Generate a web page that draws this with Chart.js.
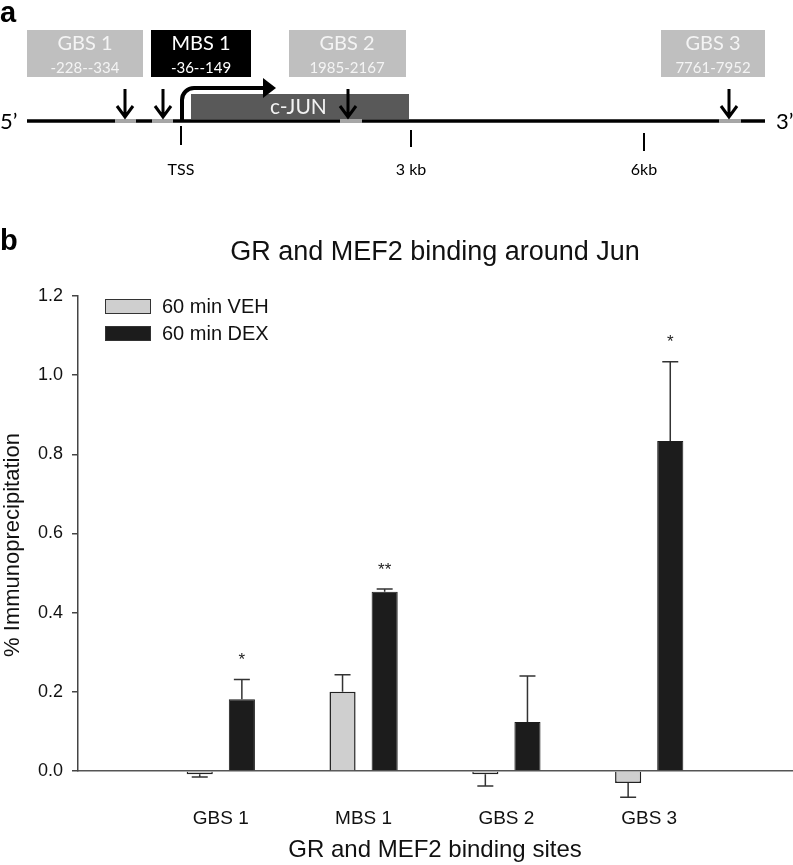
<!DOCTYPE html>
<html lang="en">
<head>
<meta charset="UTF-8">
<title>GR and MEF2 binding around Jun</title>
<script src="https://cdn.jsdelivr.net/npm/chart.js@4"></script>
<style>
    body {
        margin: 0;
        background: #fff;
    }
    .page {
        position: relative;
        width: 793px;
        height: 865px;
        overflow: hidden;
    }
    #chart {
        position: absolute;
        left: 0;
        top: 0;
    }
    /* gene map, panel a */
    .gene-map {
        position: absolute;
        left: 0;
        top: 0;
    }
    .gene-map .site { font-family: Lato, 'Open Sans', sans-serif; }
</style>
</head>
<body>
<div class="page">
    <canvas id="chart" width="793" height="865"></canvas>

    <svg class="gene-map" width="793" height="260" xmlns="http://www.w3.org/2000/svg">
        <text x="0" y="22" font-family="Liberation Sans, Arial" font-weight="bold" font-size="29" fill="#000">a</text>
        <text x="0" y="250" font-family="Liberation Sans, Arial" font-weight="bold" font-size="29" fill="#000">b</text>

        <!-- binding site boxes -->
        <g class="site" text-anchor="middle">
            <rect x="27" y="30" width="116" height="47" fill="#bfbfbf"/>
            <text x="85" y="50" font-size="20" fill="#f4f4f4">GBS 1</text>
            <text x="85" y="73" font-size="15" fill="#f4f4f4">-228--334</text>

            <rect x="151" y="30" width="100" height="47" fill="#000"/>
            <text x="201" y="50" font-size="20" fill="#fff">MBS 1</text>
            <text x="201" y="73" font-size="15" fill="#fff">-36--149</text>

            <rect x="289" y="30" width="117" height="47" fill="#bfbfbf"/>
            <text x="347" y="50" font-size="20" fill="#f4f4f4">GBS 2</text>
            <text x="347" y="73" font-size="15" fill="#f4f4f4">1985-2167</text>

            <rect x="661" y="30" width="104" height="47" fill="#bfbfbf"/>
            <text x="713" y="50" font-size="20" fill="#f4f4f4">GBS 3</text>
            <text x="713" y="73" font-size="15" fill="#f4f4f4">7761-7952</text>
        </g>

        <!-- gene body -->
        <rect x="191" y="94" width="218" height="25" fill="#595959"/>
        <text class="site" x="270" y="114" font-size="21" fill="#f2f2f2">c-JUN</text>

        <!-- chromosome line and sites -->
        <line x1="27" y1="121" x2="765" y2="121" stroke="#000" stroke-width="3.5"/>
        <rect x="115" y="119" width="21" height="4" fill="#a6a6a6"/>
        <rect x="152" y="119" width="21" height="4" fill="#a6a6a6"/>
        <rect x="340" y="119" width="22" height="4" fill="#a6a6a6"/>
        <rect x="719" y="119" width="22" height="4" fill="#a6a6a6"/>

        <!-- TSS arrow -->
        <path d="M182 121 V100 A12 12 0 0 1 194 88 H265" fill="none" stroke="#000" stroke-width="4"/>
        <polygon points="263,78 276,88 263,98" fill="#000"/>

        <!-- site arrows -->
        <g fill="none" stroke="#000" stroke-width="3">
            <path d="M125 89 V117 M117 106 L125 117 L133 106"/>
            <path d="M163 89 V117 M155 106 L163 117 L171 106"/>
            <path d="M348 89 V117 M340 106 L348 117 L356 106"/>
            <path d="M729 89 V117 M721 106 L729 117 L737 106"/>
        </g>

        <!-- scale ticks -->
        <g stroke="#000" stroke-width="2">
            <line x1="181" y1="126" x2="181" y2="145"/>
            <line x1="411" y1="130" x2="411" y2="147"/>
            <line x1="644" y1="133" x2="644" y2="151"/>
        </g>
        <g class="site" text-anchor="middle" font-size="16" fill="#000">
            <text x="181" y="175">TSS</text>
            <text x="411" y="175">3 kb</text>
            <text x="644" y="175">6kb</text>
        </g>
        <text class="site" x="0" y="129" font-size="22" fill="#000">5’</text>
        <text class="site" x="776" y="129" font-size="22" fill="#000">3’</text>
    </svg>
</div>

<script>
    // data
    const categories = ['GBS 1', 'MBS 1', 'GBS 2', 'GBS 3'];
    const vehValues = [-0.008, 0.200, -0.008, -0.030];
    const vehErrors = [0.007, 0.043, 0.030, 0.036];
    const dexValues = [0.181, 0.453, 0.124, 0.834];
    const dexErrors = [0.050, 0.007, 0.116, 0.200];
    const dexMarks = ['*', '**', '', '*'];
    const yTicks = [0, 0.2, 0.4, 0.6, 0.8, 1.0, 1.2];

    const FONT = '"Liberation Sans", Arial, sans-serif';
    Chart.defaults.font.family = FONT;
    Chart.defaults.color = '#111';

    const series = [
        { values: vehValues, errors: vehErrors, marks: [] },
        { values: dexValues, errors: dexErrors, marks: dexMarks }
    ];

    // one-sided error bars plus significance stars
    const errorBars = {
        id: 'errorBars',
        afterDatasetsDraw(chart) {
            const ctx = chart.ctx;
            const y = chart.scales.y;
            ctx.save();
            ctx.strokeStyle = '#333';
            ctx.lineWidth = 1.5;
            series.forEach((s, d) => {
                chart.getDatasetMeta(d).data.forEach((bar, i) => {
                    const v = s.values[i];
                    const end = v >= 0 ? v + s.errors[i] : v - s.errors[i];
                    const yEnd = y.getPixelForValue(end);
                    ctx.beginPath();
                    ctx.moveTo(bar.x, bar.y);
                    ctx.lineTo(bar.x, yEnd);
                    ctx.moveTo(bar.x - 8, yEnd);
                    ctx.lineTo(bar.x + 8, yEnd);
                    ctx.stroke();
                    if (s.marks[i]) {
                        ctx.fillStyle = '#222';
                        ctx.font = '17px ' + FONT;
                        ctx.textAlign = 'center';
                        ctx.textBaseline = 'middle';
                        ctx.fillText(s.marks[i], bar.x, yEnd - 19);
                    }
                });
            });
            ctx.restore();
        }
    };

    // title, y title and legend placed like the original figure
    const labels = {
        id: 'labels',
        afterDraw(chart) {
            const ctx = chart.ctx;
            const area = chart.chartArea;
            ctx.save();
            ctx.fillStyle = '#111';
            ctx.font = '27px ' + FONT;
            ctx.textAlign = 'center';
            ctx.textBaseline = 'middle';
            ctx.fillText('GR and MEF2 binding around Jun', (area.left + area.right) / 2, 253);

            ctx.save();
            ctx.translate(13, 545);
            ctx.rotate(-Math.PI / 2);
            ctx.font = '22px ' + FONT;
            ctx.fillText('% Immunoprecipitation', 0, 0);
            ctx.restore();

            ctx.textAlign = 'left';
            ctx.font = '20px ' + FONT;
            chart.data.datasets.forEach((ds, i) => {
                const top = 299 + i * 27;
                ctx.fillStyle = ds.backgroundColor;
                ctx.fillRect(105, top, 46, 15);
                ctx.strokeStyle = '#333';
                ctx.lineWidth = 1;
                ctx.strokeRect(105.5, top + 0.5, 45, 14);
                ctx.fillStyle = '#111';
                ctx.fillText(ds.label, 162, top + 8);
            });
            ctx.restore();
        }
    };

    new Chart(document.getElementById('chart'), {
        type: 'bar',
        data: {
            datasets: [
                {
                    label: '60 min VEH',
                    data: categories.map((c, i) => ({ x: i + 1, y: vehValues[i] })),
                    backgroundColor: '#cfcfcf',
                    borderColor: '#222',
                    borderWidth: 1.5,
                    clip: false
                },
                {
                    label: '60 min DEX',
                    data: categories.map((c, i) => ({ x: i + 1, y: dexValues[i] })),
                    backgroundColor: '#1c1c1c',
                    borderColor: '#1c1c1c',
                    borderWidth: 1,
                    clip: false
                }
            ]
        },
        options: {
            responsive: false,
            animation: false,
            categoryPercentage: 0.59,
            barPercentage: 0.62,
            layout: { padding: { top: 296, right: 1, left: 0, bottom: 0 } },
            plugins: {
                legend: { display: false },
                tooltip: { enabled: false }
            },
            scales: {
                x: {
                    type: 'linear',
                    offset: false,
                    min: 0,
                    max: 5,
                    afterBuildTicks: s => { s.ticks = categories.map((c, i) => ({ value: i + 1 })); },
                    ticks: {
                        callback: v => categories[v - 1] || '',
                        font: { size: 19 },
                        padding: 36,
                        maxRotation: 0,
                        autoSkip: false
                    },
                    grid: { drawOnChartArea: false, drawTicks: false },
                    border: { color: '#555', width: 1.5 },
                    title: {
                        display: true,
                        text: 'GR and MEF2 binding sites',
                        font: { size: 24 },
                        padding: { top: 0, bottom: 0 }
                    },
                    afterFit: s => { s.height = 94; }
                },
                y: {
                    min: 0,
                    max: 1.2,
                    afterBuildTicks: s => { s.ticks = yTicks.map(v => ({ value: v })); },
                    ticks: {
                        callback: v => v.toFixed(1),
                        font: { size: 18 },
                        padding: 9
                    },
                    grid: { drawOnChartArea: false, tickLength: 6, color: '#444', lineWidth: 1.5 },
                    border: { color: '#444', width: 1.5 },
                    afterFit: s => { s.width = 78; }
                }
            }
        },
        plugins: [errorBars, labels]
    });
</script>
</body>
</html>
